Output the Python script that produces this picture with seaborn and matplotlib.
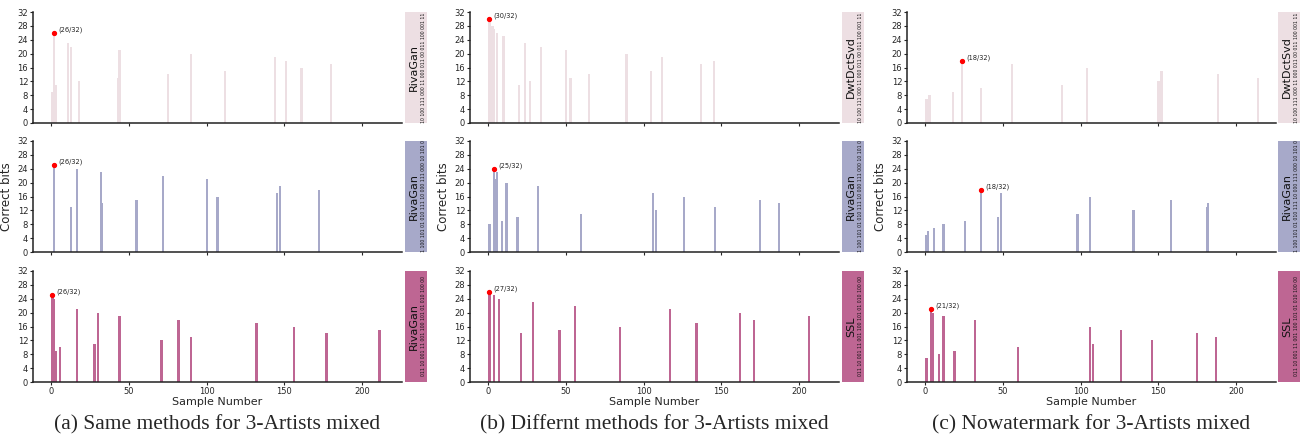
import numpy as np
import pandas as pd
import matplotlib
matplotlib.use("Agg")
import matplotlib.pyplot as plt
import seaborn as sns

# ---- data ----
# (a) same methods
a_top_x = [1, 2, 3, 11, 13, 18, 43, 44, 75, 90, 112, 144, 151, 161, 180]
a_top_y = [9, 26, 11, 23, 22, 12, 13, 21, 14, 20, 15, 19, 18, 16, 17]
a_mid_x = [2, 13, 17, 32, 33, 55, 72, 100, 107, 145, 147, 172]
a_mid_y = [25, 13, 24, 23, 14, 15, 22, 21, 16, 17, 19, 18]
a_bot_x = [1, 2, 3, 6, 17, 28, 30, 44, 71, 82, 90, 132, 156, 177, 211]
a_bot_y = [25, 24, 9, 10, 21, 11, 20, 19, 12, 18, 13, 17, 16, 14, 15]

# (b) different methods
b_top_x = [1, 3, 4, 6, 10, 20, 24, 27, 34, 50, 53, 65, 89, 105, 112, 137, 145]
b_top_y = [30, 28, 27, 26, 25, 11, 23, 12, 22, 21, 13, 14, 20, 15, 19, 17, 18]
b_mid_x = [1, 4, 5, 6, 9, 12, 19, 32, 60, 106, 108, 126, 146, 175, 187]
b_mid_y = [8, 24, 21, 23, 9, 20, 10, 19, 11, 17, 12, 16, 13, 15, 14]
b_bot_x = [1, 4, 7, 21, 29, 46, 56, 85, 117, 134, 162, 171, 206]
b_bot_y = [26, 25, 24, 14, 23, 15, 22, 16, 21, 17, 20, 18, 19]

# (c) no watermark
c_top_x = [1, 3, 18, 24, 36, 56, 88, 104, 150, 152, 188, 214]
c_top_y = [7, 8, 9, 18, 10, 17, 11, 16, 12, 15, 14, 13]
c_mid_x = [1, 2, 6, 12, 26, 36, 47, 49, 98, 106, 134, 158, 181, 182]
c_mid_y = [5, 6, 7, 8, 9, 18, 10, 17, 11, 16, 12, 15, 13, 14]
c_bot_x = [1, 4, 5, 9, 12, 19, 32, 60, 106, 108, 126, 146, 175, 187]
c_bot_y = [7, 21, 20, 8, 19, 9, 18, 10, 16, 11, 15, 12, 14, 13]

panel_x = [[a_top_x, a_mid_x, a_bot_x], [b_top_x, b_mid_x, b_bot_x], [c_top_x, c_mid_x, c_bot_x]]
panel_y = [[a_top_y, a_mid_y, a_bot_y], [b_top_y, b_mid_y, b_bot_y], [c_top_y, c_mid_y, c_bot_y]]
peak_labels = [["(26/32)", "(26/32)", "(26/32)"],
               ["(30/32)", "(25/32)", "(27/32)"],
               ["(18/32)", "(18/32)", "(21/32)"]]
methods = [["RivaGan", "RivaGan", "RivaGan"],
           ["DwtDctSvd", "RivaGan", "SSL"],
           ["DwtDctSvd", "RivaGan", "SSL"]]
bit_strings = ["10 100 111 000 11 000 011 00 011 100 001 11",
               "1 100 101 01 010 111 10 000 111 000 10 101 0",
               "011 10 001 11 001 100 101 01 010 100 00"]
captions = ["(a) Same methods for 3-Artists mixed",
            "(b) Differnt methods for 3-Artists mixed",
            "(c) Nowatermark for 3-Artists mixed"]
row_colors = ["#eddfe3", "#a7a9c9", "#be6693"]

sns.set_style("ticks")
plt.rcParams['font.family'] = ['DejaVu Sans']

fig = plt.figure(figsize=(13, 4.38), dpi=100)

W, H = 1300, 438
col_left = [33, 470, 907]
ax_w = 369
box_left = [405, 842, 1278]
box_w = 22
row_top = [12, 141, 271]
ax_h = 111

for c in range(3):
    for r in range(3):
        left = col_left[c] / W
        bottom = 1 - (row_top[r] + ax_h) / H
        ax = fig.add_axes([left, bottom, ax_w / W, ax_h / H])
        df = pd.DataFrame({"sample": panel_x[c][r], "bits": panel_y[c][r]})
        min_gap = np.diff(np.sort(df["sample"].unique())).min()
        sns.barplot(data=df, x="sample", y="bits", native_scale=True,
                    width=1.4 / min_gap, color=row_colors[r], saturation=1,
                    linewidth=0, ax=ax)
        i = df["bits"].idxmax()
        px, py = df.loc[i, "sample"], df.loc[i, "bits"]
        ax.plot(px, py, "o", color="red", ms=2.8, zorder=5)
        ax.annotate(peak_labels[c][r], (px, py), xytext=(3, 1),
                    textcoords="offset points", fontsize=4.8, color="#222222")
        ax.set_xlim(-11.5, 225.5)
        ax.set_ylim(0, 32)
        ax.set_yticks(range(0, 33, 4))
        ax.set_xticks(range(0, 201, 50))
        ax.tick_params(axis="both", labelsize=6, length=2.5, width=0.8, pad=1)
        sns.despine(ax=ax)
        for s in ["left", "bottom"]:
            ax.spines[s].set_linewidth(1.1)
            ax.spines[s].set_color("#222222")
        ax.set_ylabel("Correct bits" if r == 1 else "", fontsize=8.5, labelpad=3)
        if r == 2:
            ax.set_xlabel("Sample Number", fontsize=8, labelpad=1)
        else:
            ax.set_xlabel("")
            ax.set_xticklabels([])

        # side label box
        bx = fig.add_axes([box_left[c] / W, bottom, box_w / W, ax_h / H])
        bx.set_facecolor(row_colors[r])
        bx.set_xticks([])
        bx.set_yticks([])
        for s in bx.spines.values():
            s.set_visible(False)
        bx.text(0.42, 0.5, methods[c][r], rotation=90, ha="center", va="center",
                fontsize=8, color="#111111", transform=bx.transAxes)
        bx.text(0.85, 0.5, bit_strings[r], rotation=90, ha="center", va="center",
                fontsize=3.3, color="#111111", transform=bx.transAxes)

    fig.text((col_left[c] + ax_w / 2) / W, 1 - 425 / H, captions[c],
             ha="center", va="center", fontsize=15.5, family="Liberation Serif")

fig.savefig("out.png", dpi=100)
